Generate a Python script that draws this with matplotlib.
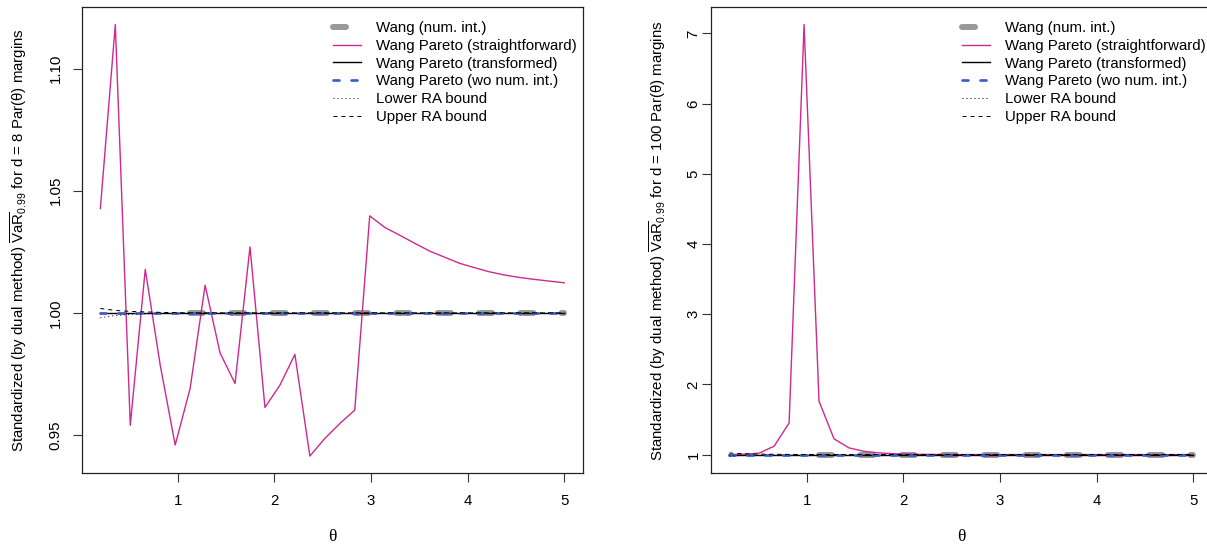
import numpy as np
import matplotlib
matplotlib.use("Agg")
import matplotlib.pyplot as plt

plt.rcParams['font.family'] = ['Liberation Sans', 'DejaVu Sans']
plt.rcParams['mathtext.fontset'] = 'custom'
plt.rcParams['mathtext.rm'] = 'Liberation Sans'
plt.rcParams['mathtext.it'] = 'Liberation Sans:italic'
plt.rcParams['lines.scale_dashes'] = False

# theta grid (32 points, 0.2 .. 5)
theta = [0.2, 0.3548, 0.5097, 0.6645, 0.8194, 0.9742, 1.1290, 1.2839,
         1.4387, 1.5935, 1.7484, 1.9032, 2.0581, 2.2129, 2.3677, 2.5226,
         2.6774, 2.8323, 2.9871, 3.1419, 3.2968, 3.4516, 3.6065, 3.7613,
         3.9161, 4.0710, 4.2258, 4.3806, 4.5355, 4.6903, 4.8452, 5.0]

# d = 8
wang_num_8 = [np.nan] * 6 + [1.0] * 26
straight_8 = [1.0427, 1.1180, 0.9540, 1.0178, 0.9786, 0.9459, 0.9691, 1.0113,
              0.9836, 0.9711, 1.0270, 0.9613, 0.9704, 0.9830, 0.9414, 0.9486,
              0.9547, 0.9602, 1.0397, 1.0350, 1.0318, 1.0285, 1.0253, 1.0228,
              1.0203, 1.0185, 1.0168, 1.0155, 1.0145, 1.0137, 1.0130, 1.0123]
transf_8 = [1.0] * 32
wonum_8 = [1.0] * 32
lower_8 = [0.9980, 0.9989, 0.9994, 0.9996, 0.9998, 0.9999] + [1.0] * 26
upper_8 = [1.0018, 1.0010, 1.0006, 1.0004, 1.0002, 1.0001] + [1.0] * 26

# d = 100
wang_num_100 = [np.nan] * 6 + [1.0] * 26
straight_100 = [1.000, 1.005, 1.020, 1.120, 1.450, 7.127, 1.760, 1.224,
                1.095, 1.047, 1.024, 1.012, 1.006, 1.003, 1.002, 1.001] + [1.0] * 16
transf_100 = [1.0] * 32
wonum_100 = [1.0] * 32
lower_100 = [0.979, 0.990, 0.995, 0.997, 0.998, 0.999, 0.9995] + [1.0] * 25
upper_100 = [1.022, 1.012, 1.007, 1.004, 1.002, 1.001, 1.0005] + [1.0] * 25

labels = ["Wang (num. int.)", "Wang Pareto (straightforward)",
          "Wang Pareto (transformed)", "Wang Pareto (wo num. int.)",
          "Lower RA bound", "Upper RA bound"]

W, H = 1207, 545
fig = plt.figure(figsize=(W / 100, H / 100), dpi=100)
FS = 10.8


def px(v):
    return v * 0.72


def panel(left, yticks, series, ypad):
    ax = fig.add_axes([left / W, (H - 473.3) / H, 501.0 / W, 466.0 / H])
    wnum, st, tr, wo, lo, up = series
    ax.plot(theta, wnum, color='#999999', lw=px(6), dashes=(px(13), px(28.3)),
            dash_capstyle='round', solid_capstyle='round', label=labels[0])
    ax.plot(theta, st, color='#CD2990', lw=1.0, label=labels[1])
    ax.plot(theta, tr, color='black', lw=1.0, label=labels[2])
    ax.plot(theta, wo, color='#3A5FCD', lw=px(2.7), dashes=(px(6), px(12)),
            dash_capstyle='round', label=labels[3])
    ax.plot(theta, lo, color='black', lw=px(1), dashes=(px(1), px(3)), label=labels[4])
    ax.plot(theta, up, color='black', lw=px(1), dashes=(px(4), px(4)), label=labels[5])

    xmin, xmax = min(theta), max(theta)
    allv = np.concatenate([np.asarray(s, float) for s in series])
    ymin, ymax = np.nanmin(allv), np.nanmax(allv)
    ax.set_xlim(xmin - 0.04 * (xmax - xmin), xmax + 0.04 * (xmax - xmin))
    ax.set_ylim(ymin - 0.04 * (ymax - ymin), ymax + 0.04 * (ymax - ymin))

    ax.set_xticks([1, 2, 3, 4, 5])
    ax.set_yticks(yticks)
    ax.tick_params(direction='out', length=px(9.3), width=0.8, labelsize=FS,
                   color='#333333')
    ax.tick_params(axis='x', pad=px(11))
    ax.tick_params(axis='y', pad=px(ypad), labelrotation=90)
    for t in ax.get_yticklabels():
        t.set_va('center')
    for s in ax.spines.values():
        s.set_linewidth(0.9)
        s.set_color('#222222')

    ax.legend(loc='upper right', bbox_to_anchor=(0.9874, 0.9705),
              frameon=False, fontsize=FS, borderaxespad=0, borderpad=0,
              handlelength=1.87, handletextpad=0.96, labelspacing=0.25)

    cx = left + 250.5
    fig.text(cx / W, 1 - 537 / H, "θ", family='Liberation Serif', fontsize=12.5,
             ha='center', va='center')
    return ax


ax1 = panel(81.8, [0.95, 1.00, 1.05, 1.10],
            [wang_num_8, straight_8, transf_8, wonum_8, lower_8, upper_8], 10)
ax1.set_yticklabels(["0.95", "1.00", "1.05", "1.10"])
ax2 = panel(710.7, [1, 2, 3, 4, 5, 6, 7],
            [wang_num_100, straight_100, transf_100, wonum_100, lower_100, upper_100], 1)

fig.text(19 / W, 1 - 240.3 / H,
         r"Standardized (by dual method) $\overline{\mathrm{VaR}}_{0.99}$ for d = 8 Par(θ) margins",
         rotation=90, ha='center', va='center', fontsize=FS)
fig.text(658 / W, 1 - 240.3 / H,
         r"Standardized (by dual method) $\overline{\mathrm{VaR}}_{0.99}$ for d = 100 Par(θ) margins",
         rotation=90, ha='center', va='center', fontsize=FS)

fig.savefig("out.png", dpi=100)
